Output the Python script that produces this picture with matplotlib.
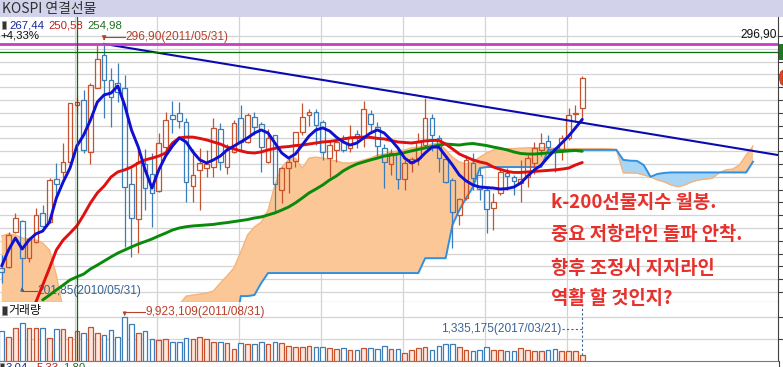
import numpy as np
import matplotlib
matplotlib.use("Agg")
import matplotlib.pyplot as plt
from matplotlib.transforms import Affine2D
from matplotlib.patches import Rectangle, Polygon

# ---------------- data (monthly, 2010/02 .. 2017/03) ----------------
opens = [209.3, 209.9, 223.3, 227.7, 213.4, 219.6, 230.7, 227.5, 244.1, 247.0,
         250.9, 273.0, 275.0, 254.6, 279.8, 292.6, 282.8, 281.5, 279.5, 242.0,
         228.5, 249.9, 246.0, 239.5, 256.8, 269.1, 269.8, 266.3, 241.5, 247.7,
         248.6, 249.0, 263.5, 249.0, 254.8, 267.8, 258.7, 268.5, 265.5, 250.9,
         261.3, 239.9, 248.6, 251.2, 262.6, 269.1, 270.2, 266.5, 252.2, 255.5,
         258.7, 256.4, 261.6, 260.0, 269.4, 264.6, 256.4, 249.9, 254.2, 244.1,
         250.3, 252.2, 257.4, 268.1, 260.3, 251.9, 243.8, 230.1, 236.6, 250.3,
         245.7, 239.9, 233.0, 238.5, 246.6, 245.0, 242.5, 245.1, 250.3, 255.5,
         259.0, 256.1, 255.5, 260.0, 269.4, 271.7]
highs = [214.5, 223.6, 230.7, 228.1, 221.6, 232.7, 234.0, 244.7, 250.3, 258.1,
         273.7, 276.0, 278.9, 281.5, 296.5, 296.9, 287.4, 289.3, 284.8, 248.3,
         255.5, 256.0, 254.2, 262.0, 270.2, 274.6, 274.1, 268.1, 255.7, 256.1,
         255.5, 267.8, 265.9, 258.0, 267.2, 273.1, 269.8, 270.2, 266.5, 263.7,
         261.3, 249.0, 252.2, 262.6, 273.7, 271.5, 271.5, 267.2, 259.4, 260.7,
         261.3, 265.2, 263.3, 274.6, 271.1, 266.3, 258.0, 256.0, 255.5, 251.6,
         252.9, 262.0, 275.7, 269.4, 261.3, 253.5, 244.4, 236.6, 253.5, 254.2,
         248.3, 241.2, 238.5, 247.7, 248.3, 245.7, 251.6, 253.5, 258.7, 262.0,
         261.3, 256.8, 261.3, 271.7, 273.1, 284.5]
lows = [203.4, 209.3, 222.9, 201.85, 211.8, 219.0, 224.9, 226.8, 237.2, 244.4,
        250.3, 270.0, 254.2, 249.9, 279.6, 267.9, 264.6, 274.4, 217.7, 213.8,
        215.1, 232.0, 225.5, 239.0, 255.5, 262.0, 264.0, 235.3, 235.3, 232.0,
        245.0, 245.0, 247.7, 246.0, 254.2, 255.5, 258.1, 261.3, 247.0, 250.3,
        231.4, 234.6, 238.5, 249.0, 261.3, 265.0, 257.4, 251.6, 245.1, 250.9,
        254.8, 254.8, 256.1, 256.8, 262.5, 253.0, 240.5, 245.7, 240.2, 239.9,
        246.8, 249.6, 256.1, 255.0, 247.0, 242.5, 217.1, 226.2, 236.0, 240.0,
        236.0, 222.9, 224.2, 237.9, 240.0, 237.9, 235.3, 241.2, 246.0, 253.0,
        255.5, 247.0, 251.6, 259.4, 266.5, 266.8]
closes = [207.7, 222.3, 229.0, 213.2, 220.7, 230.1, 225.8, 243.75, 242.1, 250.9,
          273.7, 274.3, 255.5, 280.9, 291.0, 282.8, 276.3, 278.3, 241.2, 228.8,
          250.9, 240.8, 238.5, 258.1, 267.2, 267.6, 266.8, 243.1, 245.7, 250.3,
          249.9, 263.9, 250.9, 255.5, 265.9, 258.7, 269.1, 264.6, 256.8, 260.0,
          242.1, 248.3, 250.9, 262.6, 268.5, 270.2, 265.2, 254.6, 257.4, 258.7,
          255.5, 260.7, 260.3, 271.5, 265.5, 257.2, 250.6, 254.2, 244.1, 250.3,
          252.0, 258.7, 267.8, 261.3, 252.2, 243.1, 231.4, 236.3, 251.6, 244.7,
          240.2, 232.4, 235.3, 246.7, 245.4, 243.3, 244.1, 252.2, 256.4, 258.1,
          256.8, 255.5, 260.0, 269.1, 269.9, 283.7]
# volume in millions of contracts
volume = [6.7, 5.5, 7.4, 8.6, 7.4, 7.4, 7.4, 5.1, 7.2, 7.2,
          5.5, 6.7, 6.3, 7.6, 6.3, 5.9, 7.0, 5.5, 9.923109, 8.4,
          6.4, 6.7, 4.9, 4.7, 4.9, 4.3, 4.3, 5.1, 4.9, 5.5,
          4.9, 4.3, 4.3, 4.0, 2.6, 4.0, 3.8, 3.8, 4.3, 3.8,
          4.3, 4.0, 3.4, 3.1, 3.1, 3.4, 3.1, 3.1, 2.8, 2.6,
          2.8, 2.45, 2.45, 2.8, 2.8, 2.6, 3.36, 2.6, 2.6, 1.84,
          2.45, 2.83, 3.21, 2.45, 3.36, 3.82, 3.82, 3.21, 2.45, 2.3,
          2.45, 3.21, 2.45, 2.45, 2.3, 2.3, 2.83, 2.45, 2.3, 2.3,
          2.45, 2.6, 2.3, 2.3, 2.3, 1.335175]
ma_short = [210.2, 216.4, 221.1, 216.8, 220.3, 222.7, 223.8, 227.3, 236.7, 243.0,
            248.4, 257.0, 261.3, 267.2, 274.2, 277.0, 277.7, 280.5, 273.0, 263.3,
            256.6, 247.7, 240.6, 247.7, 253.1, 257.0, 260.2, 258.6, 254.7, 251.6,
            250.4, 251.6, 253.1, 255.5, 257.0, 258.6, 260.2, 262.1, 263.3, 262.1,
            258.2, 254.3, 252.3, 253.9, 257.4, 260.9, 263.3, 264.1, 262.9, 260.5,
            258.6, 257.4, 258.2, 260.2, 262.1, 263.3, 262.1, 259.4, 256.3, 252.3,
            250.4, 251.6, 254.3, 256.6, 256.6, 253.1, 249.6, 245.7, 243.4, 241.8,
            241.0, 240.8, 240.6, 240.2, 240.4, 241.0, 242.6, 245.3, 247.7, 249.6,
            252.7, 255.5, 258.2, 260.9, 264.1, 267.44]
ma_mid = [None, None, None, None, None, 196.0, 202.7, 209.4, 216.4, 220.3,
          223.0, 225.8, 230.1, 234.8, 238.7, 241.4, 244.9, 246.9, 247.7, 248.8,
          250.4, 251.6, 252.3, 253.1, 254.3, 258.2, 260.2, 260.5, 260.5, 260.0,
          259.4, 258.6, 257.8, 256.6, 255.9, 255.1, 254.5, 254.3, 254.7, 255.5,
          256.1, 256.6, 256.8, 257.2, 257.4, 257.8, 258.2, 258.6, 258.8, 259.2,
          259.8, 260.2, 260.4, 260.5, 260.4, 260.0, 259.8, 259.2, 258.6, 258.4,
          258.2, 258.6, 259.0, 259.2, 259.2, 257.8, 255.9, 253.9, 252.7, 251.6,
          250.8, 250.2, 248.8, 247.9, 247.1, 246.7, 246.7, 246.9, 247.1, 247.3,
          247.5, 247.7, 248.0, 248.4, 249.6, 250.58]
ma_long = [None, None, None, None, None, None, 196.9, 198.8, 200.8, 202.7,
           204.7, 205.9, 207.0, 209.0, 210.5, 212.1, 213.7, 215.2, 216.4, 217.6,
           218.75, 219.7, 220.7, 221.9, 223.0, 224.2, 225.0, 225.5, 225.8, 226.0,
           226.2, 226.4, 226.8, 227.1, 227.5, 227.9, 228.3, 228.9, 229.3, 230.1,
           230.9, 232.0, 233.2, 234.8, 236.7, 238.7, 240.2, 241.8, 243.75, 245.3,
           247.3, 248.8, 250.0, 250.8, 251.6, 252.3, 253.1, 253.5, 253.9, 254.5,
           255.1, 255.7, 256.3, 256.8, 257.4, 257.8, 257.6, 257.4, 257.8, 258.0,
           257.6, 257.2, 256.6, 256.1, 255.5, 254.7, 254.1, 253.9, 253.9, 254.1,
           254.3, 254.7, 254.9, 255.1, 255.3, 254.98]
# Ichimoku leading spans (index 0 .. 110, includes 26-month projection)
span_a = [221.9, 222.7, 222.3, 221.1, 220.7, 220.3, 219.1, 216.4, 206.6, 193.0,
          188.0, 185.0, 183.0, 182.0, 182.0, 183.0, 184.0, 185.0, 186.0, 187.0,
          188.0, 189.0, 190.0, 191.0, 192.0, 193.0, 195.0, 198.4, 198.8, 199.2,
          199.6, 200.4, 203.5, 206.3, 209.4, 215.6, 222.3, 225.4, 227.3, 232.0,
          241.8, 248.8, 251.6, 252.3, 248.4, 252.3, 252.7, 252.3, 251.6, 251.2,
          250.4, 250.4, 250.8, 251.6, 252.3, 253.5, 253.9, 254.7, 255.1, 255.5,
          256.3, 256.6, 257.0, 257.8, 258.2, 255.5, 252.7, 250.8, 250.0, 250.8,
          252.7, 254.3, 255.5, 255.9, 256.0, 256.0, 256.2, 256.3, 256.4, 256.4,
          256.3, 256.0, 255.8, 255.9, 256.0, 256.0, 256.0, 256.0, 256.0, 255.9,
          255.7, 246.5, 246.5, 246.4, 245.7, 244.9, 243.75, 243.0, 241.8, 241.1,
          241.8, 243.0, 243.75, 244.1, 244.4, 246.5, 247.7, 248.0, 249.6, 253.5,
          257.0]
span_b = [180.0] * 35 + [
          198.4, 198.4, 198.8, 203.5, 207.4, 207.4, 207.4, 207.4, 207.4, 207.4,
          207.4, 207.4, 207.4, 207.4, 207.4, 207.4, 207.4, 207.4, 207.4, 207.4,
          207.4, 207.4, 207.4, 207.4, 207.4, 207.4, 207.4, 213.2, 213.2, 213.2,
          213.2, 226.2, 232.0, 236.7, 241.0, 248.4, 248.8, 248.8, 248.8, 248.8,
          248.8, 248.8, 248.8, 248.8, 248.8, 255.5, 255.5, 255.5, 255.5, 255.5,
          255.5, 255.5, 255.5, 255.5, 255.5, 255.5, 251.6, 251.3, 251.2, 249.6,
          245.0, 246.1, 246.5, 246.7, 246.7, 246.7, 246.7, 246.7, 246.7, 246.7,
          246.7, 246.7, 246.7, 246.7, 246.7, 250.9]
high_mark = (15, 296.90)          # 2011/05/31
low_mark = (3, 201.85)            # 2010/05/31
vol_mark = (18, 9.923109)         # 2011/08/31
last_vol_mark = (85, 1.335175)    # 2017/03/21
trend_pts = [(15, 296.90), (113.66, 253.5)]
year_starts = [11, 23, 35, 47, 59, 71, 83]
cursor = (11, 293.75)

# ---------------- figure / pixel helpers ----------------
W, H = 783, 367
fig = plt.figure(figsize=(W / 100, H / 100), dpi=100)
fig.patch.set_facecolor("white")
px = Affine2D().scale(1 / W, -1 / H).translate(0, 1) + fig.transFigure

def rect_axes(x0, y0, x1, y1):
    return fig.add_axes([x0 / W, 1 - y1 / H, (x1 - x0) / W, (y1 - y0) / H])

def box(x, y, w, h, fc, ec="none", lw=0, z=7):
    fig.add_artist(Rectangle((x, y), w, h, transform=px, facecolor=fc,
                             edgecolor=ec, lw=lw, zorder=z))

KR = ["Noto Sans CJK KR", "DejaVu Sans"]
SMALL = ["Liberation Sans", "Noto Sans CJK KR", "DejaVu Sans"]

# title bar
box(0, 0, W, 17, "#d2d2ea", z=0)
fig.text(2, 8.5, "KOSPI 연결선물", transform=px, family=KR, fontsize=10,
         color="#303030", va="center", ha="left")

n = len(closes)
xmin, xmax = -0.25, 113.66

# ---------------- price panel ----------------
ax = rect_axes(0, 17, 778, 302)
ax.set_xlim(xmin, xmax)
ax.set_ylim(196.09, 307.42)
for s in ["left", "top"]:
    ax.spines[s].set_visible(False)
ax.spines["bottom"].set_color("#7a7a7a")
ax.spines["right"].set_color("#404040")
ax.set_xticks([])
ax.yaxis.tick_right()
ax.set_yticks(np.arange(200, 301, 5))
ax.tick_params(axis="y", direction="out", length=4, width=0.8, color="#404040",
               labelright=False)
for v in np.arange(200, 301, 5):
    ax.axhline(v, color="#d4d4d4", lw=0.9, zorder=0.5)
for ys in year_starts:
    ax.axvline(ys - 0.3, color="#d4d4d4", lw=0.9, zorder=0.5)

# ichimoku cloud
ci = np.arange(len(span_a))
sa = np.array(span_a)
sb = np.array(span_b)
ax.fill_between(ci, sa, sb, where=sa >= sb, interpolate=True, color="#fbc796",
                lw=0, zorder=1)
ax.fill_between(ci, sa, sb, where=sa < sb, interpolate=True, color="#a9d5f5",
                lw=0, zorder=1)
ax.plot(ci, sa, color="#f4b47c", lw=1.0, zorder=1.2)
ax.plot(ci, sb, color="#2f8fe0", lw=1.4, zorder=1.3)

# candles
up_c, dn_c = "#c5512d", "#3b7cb9"
for i in range(n):
    o, h, l, c = opens[i], highs[i], lows[i], closes[i]
    col = up_c if c >= o else dn_c
    top, bot = max(o, c), min(o, c)
    if top - bot < 0.5:
        top, bot = (top + bot) / 2 + 0.25, (top + bot) / 2 - 0.25
    ax.vlines(i, top, h, color=col, lw=0.9, zorder=3)
    ax.vlines(i, l, bot, color=col, lw=0.9, zorder=3)
    ax.bar(i, top - bot, bottom=bot, width=0.68, facecolor="none",
           edgecolor=col, lw=0.9, zorder=3)

def ma_line(vals, color):
    xs = [i for i, v in enumerate(vals) if v is not None]
    ys = [v for v in vals if v is not None]
    ax.plot(xs, ys, color=color, lw=2.1, zorder=4, solid_capstyle="round")

ma_line(ma_long, "#0a8a0a")
ma_line(ma_mid, "#e01010")
ma_line(ma_short, "#1010d0")

# trend line & high line
(tx0, ty0), (tx1, ty1) = trend_pts
ax.plot([tx0, tx1], [ty0, ty1], color="#0a0ab0", lw=1.5, zorder=5)
ax.axhline(high_mark[1], color="#c43fc4", lw=2.0, zorder=5)
# cursor
ax.axhline(cursor[1], color="#0b6b0b", lw=0.9, zorder=5)
ax.axvline(cursor[0], color="#0b6b0b", lw=0.9, zorder=5)

# high annotation
hx, hy = high_mark
ax.annotate("", xy=(hx, hy + 0.3), xytext=(hx, hy + 2.9),
            arrowprops=dict(arrowstyle="-|>", color="#b8402a", lw=0.8,
                            mutation_scale=6), zorder=6)
ax.plot([hx, hx + 3.0], [hy + 2.9, hy + 2.9], color="#b8402a", lw=0.8, zorder=6)
ax.text(hx + 3.1, hy + 2.9, f"{hy:.2f}(2011/05/31)".replace(".", ","),
        family=SMALL, fontsize=8.6, color="#b8402a", va="center", ha="left",
        zorder=6)
# low annotation
lx, ly = low_mark
ax.annotate("", xy=(lx, ly + 0.1), xytext=(lx, ly - 1.5),
            arrowprops=dict(arrowstyle="-|>", color="#3a6494", lw=0.8,
                            mutation_scale=5), zorder=3.5)
ax.plot([lx, lx + 2.2], [ly - 1.5, ly - 1.5], color="#3a6494", lw=0.8, zorder=3.5)
ax.text(lx + 2.3, ly - 1.5, f"{ly:.2f}(2010/05/31)".replace(".", ","),
        family=SMALL, fontsize=8.6, color="#3a6494", va="center", ha="left",
        zorder=3.5)
# right-side max label
ax.text(xmax - 0.2, hy + 3.6, f"{hy:.2f}".replace(".", ","), family=SMALL,
        fontsize=8.6, color="#111111", va="center", ha="right", zorder=6)

# legend values
box(2, 21, 4, 8, "#333333", "#999999", 0.5)
fig.text(9, 25, f"{ma_short[-1]:.2f}".replace(".", ","), transform=px,
         family=SMALL, fontsize=8.2, color="#1a2a9a", va="center")
fig.text(48, 25, f"{ma_mid[-1]:.2f}".replace(".", ","), transform=px,
         family=SMALL, fontsize=8.2, color="#c02020", va="center")
fig.text(87, 25, f"{ma_long[-1]:.2f}".replace(".", ","), transform=px,
         family=SMALL, fontsize=8.2, color="#207020", va="center")
fig.text(0, 35, "+4,33%", transform=px, family=SMALL, fontsize=8.2,
         color="#111111", va="center")

# red comment text
notes = ["k-200선물지수 월봉.", "중요 저항라인 돌파 안착.", "향후 조정시 지지라인",
         "역활 할 것인지?"]
for t, yy in zip(notes, [202, 234.5, 268, 298]):
    fig.text(551, yy, t, transform=px, family=KR, fontsize=13.5,
             fontweight="bold", color="#e8302c", va="center", ha="left",
             zorder=10)

# right edge markers: cursor price (green) and last price (red)
box(778.5, 44, 5, 16, "#1f7a1f", z=8)
fig.add_artist(Polygon([(783, 70), (780.5, 72), (779.2, 77.7), (780.5, 83.5),
                        (783, 85.5)], closed=True, transform=px,
                       facecolor="#e04a22", edgecolor="#b83010", lw=0.5,
                       zorder=8))

# ---------------- volume panel ----------------
vax = rect_axes(0, 302, 778, 360.7)
vax.set_xlim(xmin, xmax)
vax.set_ylim(0, 13.43)
for s in ["left", "top"]:
    vax.spines[s].set_visible(False)
vax.spines["bottom"].set_color("#7a7a7a")
vax.spines["right"].set_color("#404040")
vax.set_xticks([])
vax.yaxis.tick_right()
vax.set_yticks([5, 10])
vax.tick_params(axis="y", direction="out", length=4, width=0.8, color="#404040",
                labelright=False)
for v in [5, 10]:
    vax.axhline(v, color="#d4d4d4", lw=0.9, zorder=0.5)
for ys in year_starts:
    vax.axvline(ys - 0.3, color="#d4d4d4", lw=0.9, zorder=0.5)
vax.axvline(cursor[0], color="#0b6b0b", lw=0.9, zorder=5)
for i in range(n):
    up = closes[i] >= opens[i]
    vax.bar(i, volume[i], width=0.68,
            facecolor="#fde6dc" if up else "#ffffff",
            edgecolor=up_c if up else dn_c, lw=0.9, zorder=3)
vx, vv = vol_mark
vax.annotate("", xy=(vx, vv + 0.3), xytext=(vx, vv + 1.3),
             arrowprops=dict(arrowstyle="-|>", color="#b8402a", lw=0.8,
                             mutation_scale=5), zorder=6)
vax.plot([vx, vx + 3.0], [vv + 1.3, vv + 1.3], color="#b8402a", lw=0.8, zorder=6)
vax.text(vx + 3.1, vv + 1.3, f"{int(round(vv * 1e6)):,}(2011/08/31)",
         family=SMALL, fontsize=8.6, color="#b8402a", va="center", ha="left")
lvx, lvv = last_vol_mark
vax.plot([lvx - 3.0, lvx], [7.3, 7.3], color="#3a6494", lw=0.8, ls=(0, (2, 2)))
vax.plot([lvx, lvx], [lvv, 13.4], color="#3a6494", lw=0.8, ls=(0, (2, 2)))
vax.text(lvx - 3.1, 7.3, f"{int(round(lvv * 1e6)):,}(2017/03/21)",
         family=SMALL, fontsize=8.6, color="#3a6494", va="center", ha="right")
box(2, 306, 5, 9, "#333333", "#999999", 0.5, z=8)
fig.text(8, 310.5, "거래량", transform=px, family=KR, fontsize=8.6,
         color="#111111", va="center")

# bottom (partly hidden) indicator row
box(0, 363, 4, 6, "#333333", "#999999", 0.5, z=8)
fig.text(6, 367.5, "3,04", transform=px, family=SMALL, fontsize=8.2,
         color="#1a2a9a", va="center")
fig.text(37, 367.5, "5,33", transform=px, family=SMALL, fontsize=8.2,
         color="#c02020", va="center")
fig.text(63, 367.5, "1,80", transform=px, family=SMALL, fontsize=8.2,
         color="#207020", va="center")
fig.add_artist(plt.Line2D([778.5, 778.5], [360.7, 367], transform=px,
                          color="#404040", lw=0.8))

fig.savefig("out.png", dpi=100)
